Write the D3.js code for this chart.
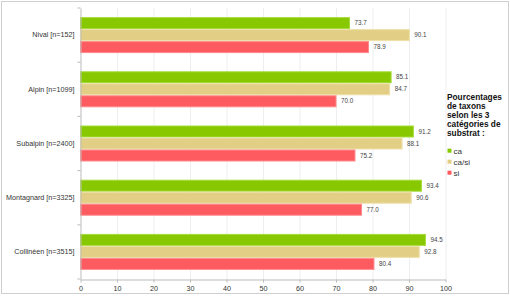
<!DOCTYPE html>
<html><head><meta charset="utf-8">
<script src="https://cdn.jsdelivr.net/npm/d3@7"></script>
<style>body{margin:0;background:#fff}svg{display:block;font-family:"Liberation Sans",Arial,sans-serif}</style>
</head><body><svg id="c" width="510" height="296"></svg>
<script>
const categories = ["Nival [n=152]","Alpin [n=1099]","Subalpin [n=2400]","Montagnard [n=3325]","Collinéen [n=3515]"];
const seriesNames = ["ca","ca/si","si"];
const ca   = [73.7, 85.1, 91.2, 93.4, 94.5];
const casi = [90.1, 84.7, 88.1, 90.6, 92.8];
const si   = [78.9, 70.0, 75.2, 77.0, 80.4];
const xTicks = [0,10,20,30,40,50,60,70,80,90,100];
const legendTitle = ["Pourcentages","de taxons","selon les 3","catégories de","substrat :"];
const colors = ["#88c800","#e2cf85","#fe5b60"];
const strokes = ["#a6dc3a","#eee0a8","#ff8a8d"];

const seriesVals = [ca, casi, si];
const svg = d3.select("#c");
svg.append("rect").attr("x",1.5).attr("y",1.5).attr("width",507).attr("height",292)
  .attr("fill","#fff").attr("stroke","#cfcfcf");

const x = d3.scaleLinear().domain([0,100]).range([80.5,445.5]);
const y = d3.scaleBand().domain(categories).range([8,279]);
const yi = d3.scaleBand().domain(seriesNames).range([0,y.bandwidth()]).paddingOuter(0.758);

// grid
svg.append("g").selectAll("line").data(xTicks.slice(1)).join("line")
  .attr("x1",d=>x(d)+0.5).attr("x2",d=>x(d)+0.5).attr("y1",8).attr("y2",279)
  .attr("stroke","#eeeeee");

// bars
categories.forEach((c,i)=>{
  const g = svg.append("g").attr("transform",`translate(0,${y(c)})`);
  seriesNames.forEach((s,j)=>{
    const v = seriesVals[j][i];
    g.append("rect").attr("x",x(0)).attr("y",yi(s)+0.5)
      .attr("width",x(v)-x(0)).attr("height",yi.bandwidth()-1)
      .attr("fill",colors[j]).attr("stroke",strokes[j]).attr("stroke-width",1);
    g.append("text").attr("x",x(v)+5).attr("y",yi(s)+yi.bandwidth()/2)
      .attr("dy","0.35em").attr("font-size",6.3).attr("fill","#444").text(v.toFixed(1));
  });
});

// y axis
const ya = svg.append("g").attr("transform",`translate(${x(0)},0)`)
  .call(d3.axisLeft(y).tickSize(0).tickPadding(6));
ya.select(".domain").attr("stroke","#bbb");
ya.selectAll("text").attr("font-size",7.2).attr("fill","#333").attr("font-family","Liberation Sans, Arial, sans-serif");
// boundary ticks
svg.append("g").selectAll("line").data(d3.range(categories.length+1)).join("line")
  .attr("x1",x(0)-3).attr("x2",x(0)).attr("y1",d=>8+d*y.step()).attr("y2",d=>8+d*y.step())
  .attr("stroke","#bbb");

// x axis
const xa = svg.append("g").attr("transform","translate(0,279.5)")
  .call(d3.axisBottom(x).tickValues(xTicks).tickFormat(d3.format("d")).tickSize(3).tickSizeOuter(0).tickPadding(3));
xa.select(".domain").attr("stroke","#bbb");
xa.selectAll(".tick line").attr("stroke","#bbb");
xa.selectAll("text").attr("font-size",7.2).attr("fill","#333").attr("font-family","Liberation Sans, Arial, sans-serif");

// legend
const lg = svg.append("g");
lg.selectAll("text.t").data(legendTitle).join("text").attr("class","t")
  .attr("x",447).attr("y",(d,i)=>97.3+i*9).attr("dy","0.35em")
  .attr("font-size",8.3).attr("font-weight","bold").attr("fill","#111").text(d=>d);
seriesNames.forEach((s,j)=>{
  const yy = 150.7 + j*11;
  lg.append("rect").attr("x",447.5).attr("y",yy-2).attr("width",4).attr("height",4).attr("fill",colors[j]);
  lg.append("text").attr("x",453.5).attr("y",yy).attr("dy","0.35em").attr("font-size",8)
    .attr("fill","#333").text(s);
});
</script></body></html>
